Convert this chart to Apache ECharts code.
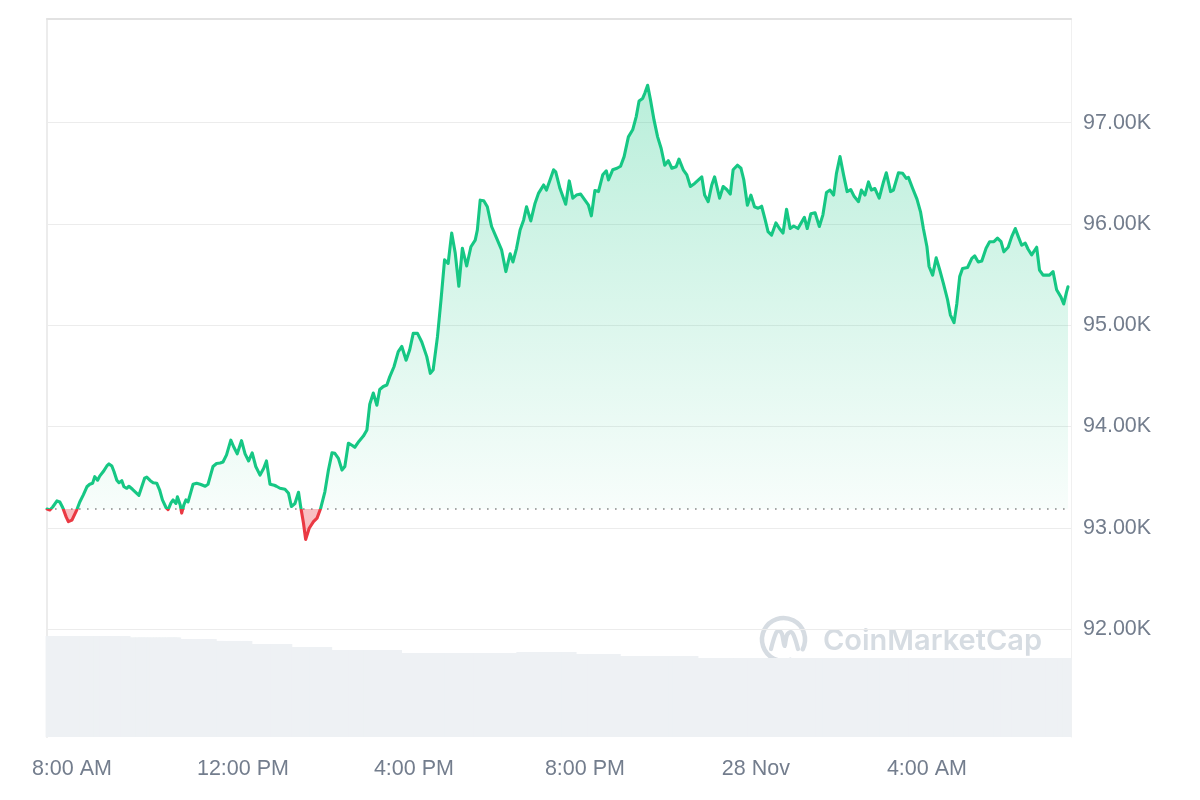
<!DOCTYPE html>
<html>
<head>
<meta charset="utf-8">
<script src="https://cdn.jsdelivr.net/npm/echarts@6/dist/echarts.min.js"></script>
<style>
html,body{margin:0;padding:0;background:#ffffff;}
#chart{width:1200px;height:800px;}
</style>
</head>
<body>
<div id="chart"></div>
<script>
// ---- data (BTC price, 27-28 Nov) ----
const times = [
"07:25","07:29","07:33","07:39","07:43","07:47","07:52","07:55","08:00","08:07",
"08:11","08:16","08:21","08:25","08:29","08:32","08:36","08:39","08:44","08:49",
"08:52","08:56","08:59","09:03","09:06","09:10","09:13","09:17","09:20","09:25",
"09:31","09:34","09:38","09:42","09:45","09:50","09:54","09:59","10:03","10:07",
"10:12","10:15","10:19","10:22","10:26","10:28","10:32","10:34","10:37","10:40",
"10:43","10:47","10:50","10:55","11:00","11:07","11:11","11:14","11:18","11:23",
"11:28","11:32","11:37","11:43","11:47","11:52","11:58","12:03","12:08","12:13",
"12:18","12:24","12:29","12:33","12:38","12:44","12:47","12:52","12:59","13:04",
"13:08","13:13","13:18","13:21","13:25","13:28","13:33","13:39","13:44","13:49",
"13:55","14:00","14:05","14:09","14:14","14:19","14:23","14:28","14:33","14:37",
"14:43","14:49","14:54","14:58","15:03","15:08","15:12","15:17","15:22","15:26",
"15:32","15:38","15:43","15:49","15:54","15:59","16:05","16:11","16:18","16:23",
"16:27","16:33","16:38","16:43","16:48","16:53","16:58","17:03","17:08","17:14",
"17:20","17:26","17:29","17:33","17:38","17:43","17:49","17:56","18:03","18:09",
"18:15","18:19","18:24","18:29","18:34","18:38","18:44","18:50","18:55","19:02",
"19:06","19:11","19:16","19:19","19:25","19:33","19:38","19:43","19:48","19:54",
"20:00","20:05","20:09","20:14","20:19","20:25","20:30","20:33","20:39","20:45",
"20:50","20:55","21:01","21:07","21:12","21:16","21:21","21:24","21:28","21:32",
"21:37","21:42","21:47","21:52","21:57","22:02","22:08","22:12","22:18","22:23",
"22:28","22:34","22:44","22:48","22:53","22:58","23:02","23:09","23:14","23:19",
"23:24","23:28","23:34","23:39","23:43","23:48","23:53","23:58","00:03","00:08",
"00:13","00:17","00:22","00:28","00:33","00:38","00:43","00:48","00:53","00:59",
"01:03","01:08","01:12","01:17","01:23","01:29","01:34","01:39","01:44","01:49",
"01:53","01:58","02:03","02:08","02:13","02:18","02:24","02:28","02:33","02:38",
"02:42","02:47","02:53","02:59","03:03","03:09","03:13","03:20","03:26","03:31",
"03:34","03:40","03:46","03:51","03:55","04:00","04:03","04:08","04:13","04:18",
"04:23","04:29","04:33","04:38","04:42","04:46","04:50","04:57","05:03","05:07",
"05:12","05:17","05:23","05:28","05:34","05:39","05:44","05:48","05:54","05:59",
"06:04","06:08","06:13","06:18","06:22","06:27","06:34","06:38","06:43","06:52",
"06:57","07:02","07:08","07:12","07:16","07:18"
];

const prices = [
93185,93175,93205,93265,93255,93200,93105,93060,93075,93180,
93255,93325,93405,93430,93440,93505,93470,93510,93555,93610,
93630,93610,93555,93470,93445,93465,93405,93390,93410,93380,
93340,93320,93405,93490,93500,93465,93445,93440,93375,93275,
93200,93180,93245,93275,93240,93305,93225,93145,93225,93275,
93255,93355,93430,93440,93430,93410,93430,93505,93605,93635,
93640,93650,93720,93865,93800,93730,93860,93730,93660,93740,
93605,93520,93585,93660,93430,93420,93410,93390,93380,93340,
93210,93240,93350,93210,93045,92885,92995,93060,93095,93190,
93355,93570,93740,93735,93685,93570,93605,93835,93815,93795,
93855,93905,93965,94220,94330,94210,94365,94395,94410,94490,
94590,94740,94790,94655,94755,94920,94920,94835,94690,94525,
94560,94885,95250,95645,95610,95910,95710,95385,95760,95585,
95775,95840,95940,96235,96230,96170,95975,95860,95745,95530,
95705,95625,95760,95940,96040,96170,96030,96205,96305,96385,
96335,96435,96535,96515,96350,96195,96425,96255,96285,96295,
96235,96185,96080,96330,96320,96485,96525,96435,96535,96550,
96570,96665,96860,96930,97060,97215,97240,97290,97370,97225,
97025,96860,96745,96580,96625,96550,96565,96640,96535,96485,
96370,96400,96465,96285,96220,96385,96465,96255,96370,96340,
96295,96535,96580,96550,96435,96185,96285,96170,96155,96175,
96040,95925,95890,96010,95955,95910,96145,95955,95980,95955,
96005,96065,95955,96100,96110,95975,96090,96310,96335,96285,
96500,96665,96485,96320,96340,96270,96220,96335,96285,96415,
96335,96350,96255,96415,96505,96320,96335,96505,96500,96450,
96460,96350,96245,96120,95955,95775,95580,95495,95665,95545,
95415,95250,95100,95025,95215,95480,95560,95570,95660,95685,
95625,95635,95760,95825,95825,95860,95825,95725,95770,95875,
95955,95880,95790,95810,95750,95695,95770,95545,95495,95495,
95530,95350,95280,95210,95330,95380
];

// volume (arbitrary units, USD bn), one bar per price point
const volumes = [
70.3,70.3,70.3,70.3,70.3,70.3,70.3,70.3,70.3,70.3,
70.3,70.3,70.3,70.3,70.3,70.3,70.3,70.3,70.3,70.3,
70.3,70.3,70.3,70.3,70.3,70.3,70.3,70.3,
69.3,69.3,69.3,69.3,69.3,69.3,69.3,69.3,69.3,69.3,
69.3,69.3,69.3,69.3,69.3,69.3,69.3,69.3,
68.2,68.2,68.2,68.2,68.2,68.2,68.2,68.2,68.2,68.2,68.2,68.2,68.2,
66.9,66.9,66.9,66.9,66.9,66.9,66.9,66.9,66.9,66.9,
64.8,64.8,64.8,64.8,64.8,64.8,64.8,64.8,64.8,64.8,64.8,
62.7,62.7,62.7,62.7,62.7,62.7,62.7,62.7,62.7,62.7,62.7,62.7,
60.6,60.6,60.6,60.6,60.6,60.6,60.6,60.6,60.6,60.6,
60.6,60.6,60.6,60.6,60.6,60.6,60.6,60.6,60.6,60.6,
58.5,58.5,58.5,58.5,58.5,58.5,58.5,58.5,58.5,58.5,
58.5,58.5,58.5,58.5,58.5,58.5,58.5,58.5,58.5,58.5,
58.5,58.5,58.5,58.5,58.5,58.5,58.5,58.5,58.5,58.5,58.5,
59.2,59.2,59.2,59.2,59.2,59.2,59.2,59.2,59.2,59.2,59.2,59.2,59.2,59.2,59.2,
57.8,57.8,57.8,57.8,57.8,57.8,57.8,57.8,57.8,57.8,57.8,57.8,
56.4,56.4,56.4,56.4,56.4,56.4,56.4,56.4,56.4,56.4,56.4,
56.4,56.4,56.4,56.4,56.4,56.4,56.4,56.4,56.4,56.4,56.4,
55.0,55.0,55.0,55.0,55.0,55.0,55.0,55.0,55.0,55.0,
55.0,55.0,55.0,55.0,55.0,55.0,55.0,55.0,55.0,55.0,
55.0,55.0,55.0,55.0,55.0,55.0,55.0,55.0,55.0,55.0,
55.0,55.0,55.0,55.0,55.0,55.0,55.0,55.0,55.0,55.0,
55.0,55.0,55.0,55.0,55.0,55.0,55.0,55.0,55.0,55.0,
55.0,55.0,55.0,55.0,55.0,55.0,55.0,55.0,55.0,55.0,
55.0,55.0,55.0,55.0,55.0,55.0,55.0,55.0,55.0,55.0,
55.0,55.0,55.0,55.0,55.0,55.0,55.0,55.0,55.0,55.0,
55.0,55.0,55.0,55.0,55.0,55.0,55.0,55.0,55.0,55.0,
55.0,55.0,55.0,55.0,55.0,55.0,55.0,55.0,55.0,55.0,
55.0,55.0,55.0,55.0
];

const xTickTimes = ["2024-11-27T08:00","2024-11-27T12:00","2024-11-27T16:00","2024-11-27T20:00","2024-11-28T00:00","2024-11-28T04:00"];
const xTickLabels = ["8:00 AM","12:00 PM","4:00 PM","8:00 PM","28 Nov","4:00 AM"];
const yLabelValues = [92000,93000,94000,95000,96000,97000];

(function () {
  let day = 27, prevMin = -1;
  const stamps = times.map(function (t) {
    const p = t.split(":").map(Number);
    const mins = p[0] * 60 + p[1];
    if (mins < prevMin) day = 28;
    prevMin = mins;
    return new Date(2024, 10, day, p[0], p[1]).getTime();
  });
  const tickStamps = xTickTimes.map(function (s) {
    const d = s.split("T"); const ymd = d[0].split("-").map(Number); const hm = d[1].split(":").map(Number);
    return new Date(ymd[0], ymd[1] - 1, ymd[2], hm[0], hm[1]).getTime();
  });
  const priceData = stamps.map(function (s, i) { return [s, prices[i]]; });
  const volData = stamps.map(function (s, i) { return [s, volumes[i]]; });
  const baseline = prices[0];

  const xMin = new Date(2024, 10, 27, 7, 25, 0).getTime();
  const xMax = new Date(2024, 10, 28, 7, 22, 12).getTime();

  const GREEN = "#16c784", RED = "#ea3943";
  const labelColor = "#737d8d";
  const FONT = "Liberation Sans";

  const chart = echarts.init(document.getElementById("chart"), null, { renderer: "canvas" });

  function hiddenX(grid, pos, line) {
    return { type: "value", gridIndex: grid, min: xMin, max: xMax, position: pos, scale: true,
      axisLine: line ? { show: true, onZero: false, lineStyle: line } : { show: false, onZero: false },
      axisTick: { show: false }, axisLabel: { show: false }, splitLine: { show: false } };
  }

  function buildOption(lineColor, areaColor) {
    return {
      animation: false,
      backgroundColor: "#ffffff",
      grid: [
        { left: 47, right: 129, top: 19, bottom: 69.7, containLabel: false, outerBoundsMode: "none" },
        { left: 47, right: 129, top: 19, bottom: 63, containLabel: false, outerBoundsMode: "none" }
      ],
      xAxis: [
        hiddenX(0, "bottom", null),
        { type: "value", gridIndex: 1, min: xMin, max: xMax, position: "bottom", scale: true,
          axisLine: { show: false, onZero: false },
          axisTick: { show: false, customValues: tickStamps },
          splitLine: { show: false },
          axisLabel: {
            customValues: tickStamps,
            margin: 21, color: labelColor, fontSize: 21.5, fontFamily: FONT,
            showMinLabel: true, showMaxLabel: true, hideOverlap: false,
            formatter: function (v) {
              const i = tickStamps.indexOf(v);
              return i >= 0 ? xTickLabels[i] : "";
            }
          }
        },
        hiddenX(1, "top", { color: "#e2e2e2", width: 2 })
      ],
      yAxis: [
        { type: "value", gridIndex: 0, position: "right", min: 91000, max: 98024, interval: 1000,
          axisLine: { show: false, onZero: false }, axisTick: { show: false },
          splitLine: { show: true, lineStyle: { width: 1.2, color: ["rgba(0,0,0,0)", "#ececec", "#ececec", "#ececec", "#ececec", "#ececec", "#ececec", "rgba(0,0,0,0)", "rgba(0,0,0,0)"] } },
          axisLabel: {
            margin: 12, color: labelColor, fontSize: 21.5, fontFamily: FONT,
            formatter: function (v) {
              return yLabelValues.indexOf(v) >= 0 ? (v / 1000).toFixed(2) + "K" : "";
            }
          }
        },
        { type: "value", gridIndex: 1, position: "left", min: 0, max: 500,
          axisLine: { show: true, onZero: false, lineStyle: { color: "#ececec", width: 2 } },
          axisTick: { show: false }, axisLabel: { show: false }, splitLine: { show: false } },
        { type: "value", gridIndex: 1, position: "right", min: 0, max: 1,
          axisLine: { show: true, onZero: false, lineStyle: { color: "#f0f0f0", width: 1 } },
          axisTick: { show: false }, axisLabel: { show: false }, splitLine: { show: false } }
      ],
      series: [
        { type: "line", name: "Price", xAxisIndex: 0, yAxisIndex: 0, data: priceData,
          showSymbol: false, symbol: "none", smooth: false, z: 5,
          lineStyle: { width: 3.1, cap: "round", join: "round", color: lineColor },
          itemStyle: { color: GREEN },
          areaStyle: { origin: baseline, color: areaColor, opacity: 1 },
          markLine: {
            silent: true, symbol: ["none", "none"], label: { show: false },
            lineStyle: { color: "#8a8a8a", type: [1.6, 6.4], width: 1.6 },
            emphasis: { disabled: true },
            data: [{ yAxis: baseline }]
          }
        },
        { type: "bar", name: "Volume", xAxisIndex: 1, yAxisIndex: 1, data: volData,
          barWidth: 7.5, itemStyle: { color: "#eef1f4" }, z: 1, silent: true }
      ],
      graphic: [
        { type: "group", x: 758, y: 615, z: 100, silent: true,
          children: [
            { type: "arc", shape: { cx: 25.5, cy: 24.5, r: 21.5, startAngle: 1.25, endAngle: 6.75, clockwise: true },
              style: { stroke: "#d6dce2", lineWidth: 4.5, fill: null, lineCap: "round" } },
            { type: "polyline", shape: { points: [[13, 34], [18, 18], [21, 16], [24, 19], [26.5, 31], [29, 20], [33, 17], [36, 21], [40, 34]], smooth: 0.35 },
              style: { stroke: "#d6dce2", lineWidth: 4.2, fill: null, lineCap: "round", lineJoin: "round" } },
            { type: "text", x: 65, y: 26,
              style: { text: "CoinMarketCap", fontSize: 29, fontWeight: 600, fontFamily: "Inter", fill: "#d6dce2", verticalAlign: "middle", textVerticalAlign: "middle" } }
          ]
        }
      ]
    };
  }

  chart.setOption(buildOption(GREEN, "rgba(22,199,132,0.15)"));
  const yb = chart.convertToPixel({ yAxisIndex: 0 }, baseline);
  const gTop = 19, gBottom = 737;
  const f = Math.min(0.999, Math.max(0.001, (yb - gTop) / (gBottom - gTop)));
  const areaGrad = new echarts.graphic.LinearGradient(0, gTop, 0, gBottom, [
    { offset: 0, color: "rgba(22,199,132,0.34)" },
    { offset: f, color: "rgba(22,199,132,0.03)" },
    { offset: f, color: "rgba(234,57,67,0.32)" },
    { offset: 1, color: "rgba(234,57,67,0.32)" }
  ], true);
  const lineGrad = new echarts.graphic.LinearGradient(0, gTop, 0, gBottom, [
    { offset: 0, color: GREEN },
    { offset: f, color: GREEN },
    { offset: f, color: RED },
    { offset: 1, color: RED }
  ], true);
  chart.setOption({ series: [{ lineStyle: { color: lineGrad }, areaStyle: { origin: baseline, color: areaGrad, opacity: 1 } }] });
})();
</script>
</body>
</html>
